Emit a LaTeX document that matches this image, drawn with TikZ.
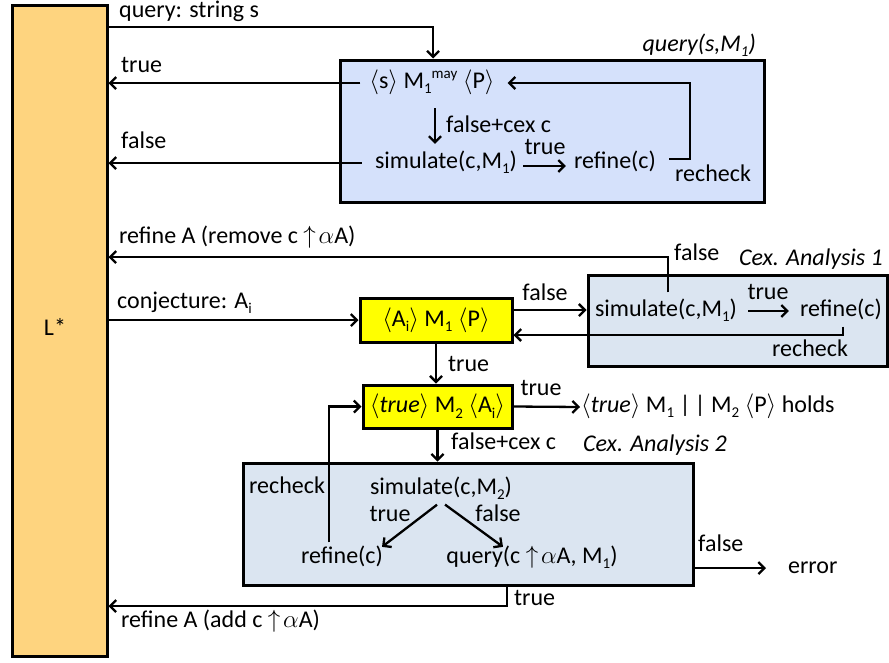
\documentclass[tikz,border=0pt]{standalone}
\usepackage{fontspec}
\setmainfont{Carlito}
\usetikzlibrary{arrows.meta}
\definecolor{lstar}{HTML}{FED47F}
\definecolor{qblue}{HTML}{D5E1FB}
\definecolor{cexblue}{HTML}{DBE5F1}
\definecolor{ybox}{HTML}{FFFF00}
\newcommand\lo[1]{\raisebox{-0.22em}{\fontsize{15}{15}\selectfont #1}}
\newcommand\hi[1]{\raisebox{0.42em}{\fontsize{15}{15}\selectfont #1}}
\newcommand\angl{\ensuremath{\langle}}
\newcommand\angr{\ensuremath{\rangle}}
\newcommand\upa{\ensuremath{\uparrow\!\alpha}}
\begin{document}
\begin{tikzpicture}[x=1pt, y=-1pt, line width=2.3pt,
  font=\fontsize{24}{28}\selectfont,
  arr/.style={-{Straight Barb[length=6pt,width=12pt,line width=2.3pt]}},
  box/.style={draw, line width=3pt, inner sep=0pt},
  txt/.style={inner sep=0pt, text height=17pt, text depth=6pt}]
\fill[white] (0,0) rectangle (889,662);
\useasboundingbox (0,0) rectangle (889,662);

% learner column
\node[box, fill=lstar, minimum width=95pt, minimum height=651pt] (L) at (59.5,330.5) {};
\node[txt] (Ltxt) at (55,330) {L*};

% membership query box
\node[box, fill=qblue, minimum width=424pt, minimum height=142pt] (qbox) at (552,131) {};
\node[txt, anchor=east] (qname) at (757,46) {\itshape query(s,M\lo{1})};
\node[txt] (mayP) at (432,83) {\angl s\angr\ M\lo{1}\hi{may} \angl P\angr};
\node[txt] (sim1) at (446,163) {simulate(c,M\lo{1})};
\node[txt] (ref1) at (615,163) {refine(c)};
\node[txt] (tru1) at (545,149) {true};
\node[txt, anchor=west] (rc1) at (674,176) {recheck};
\node[txt, anchor=west] (fc1) at (445,127) {false+cex c};
\coordinate (rl1) at (690,83);
\coordinate (qturn) at (433,27);

% labels on the learner side
\node[txt, anchor=west] (qlab) at (118,12) {query: string s};
\node[txt, anchor=west] (tl1) at (120,67) {true};
\node[txt, anchor=west] (fl1) at (120,143) {false};
\node[txt, anchor=west] (refA1) at (118,238) {refine A (remove c \upa A)};
\node[txt, anchor=west] (conj) at (116,303) {conjecture: A\lo{i}};
\node[txt, anchor=west] (refA2) at (120,622) {refine A (add c \upa A)};

% assume-guarantee premises
\node[box, fill=ybox, minimum width=152pt, minimum height=44pt] (y1) at (436,320) {\angl A\lo{i}\angr\ M\lo{1} \angl P\angr};
\node[box, fill=ybox, minimum width=149pt, minimum height=43pt] (y2) at (437.5,406.5) {\angl\textit{true}\angr\ M\lo{2} \angl A\lo{i}\angr};
\node[txt] (fal1) at (545,295) {false};
\node[txt, anchor=west] (trD) at (447,366) {true};
\node[txt] (tru3) at (541,390) {true};
\node[txt, anchor=west] (holds) at (580,407) {\angl\textit{true}\angr\ M\lo{1} |\,| M\lo{2} \angl P\angr\ holds};
\node[txt, anchor=west] (fc2) at (450,444) {false+cex c};

% counterexample analysis 1
\node[box, fill=cexblue, minimum width=299pt, minimum height=91pt] (cex1) at (737.5,320.5) {};
\node[txt, anchor=east] (cname1) at (884,260) {\itshape Cex. Analysis 1};
\node[txt] (sim2) at (666,311) {simulate(c,M\lo{1})};
\node[txt] (ref2) at (841,311) {refine(c)};
\node[txt] (tru2) at (768,294) {true};
\node[txt] (rc2) at (810,351) {recheck};
\node[txt, anchor=west] (fal2) at (673,255) {false};
\coordinate (rA1) at (668,257);

% counterexample analysis 2
\node[box, fill=cexblue, minimum width=450pt, minimum height=122pt] (cex2) at (468,524) {};
\node[txt, anchor=west] (cname2) at (582,446) {\itshape Cex. Analysis 2};
\node[txt, anchor=west] (rc3) at (248,488) {recheck};
\node[txt] (sim3) at (441,489) {simulate(c,M\lo{2})};
\node[txt] (t3) at (390,516) {true};
\node[txt] (f3) at (498,516) {false};
\node[txt] (ref3) at (342,558) {refine(c)};
\node[txt] (qry) at (532,558) {query(c \upa A, M\lo{1})};
\node[txt, anchor=west] (truB) at (513,600) {true};
\node[txt, anchor=west] (fal4) at (697,546) {false};
\node[txt, anchor=west] (err) at (787,568) {error};
\coordinate (tB) at (507,606);

% connectors: membership query
\draw[arr] (L.east |- qturn) -- (qturn) -- (qturn |- qbox.north);
\draw[arr] ([xshift=-8pt]mayP.west) -- (L.east |- mayP.west);
\draw[arr] ([xshift=-12pt]sim1.west) -- (L.east |- sim1.west);
\draw[arr, shorten <=12.5pt, shorten >=6.5pt] ([xshift=3pt]mayP.south) -- ([xshift=-11pt]sim1.north);
\draw[arr] ([xshift=5pt,yshift=-3pt]sim1.east) -- ([xshift=-7pt,yshift=-3pt]ref1.west);
\draw[arr] ([xshift=12pt,yshift=4pt]ref1.east) -| (rl1) -- ([xshift=12pt]mayP.east);

% connectors: conjecture and first premise
\draw[arr] (L.east |- y1.west) -- (y1.west);
\draw[arr] ([yshift=10pt]y1.east) -- ([yshift=10pt]y1.east -| cex1.west);
\draw[arr] ([xshift=10pt]sim2.east) -- ([xshift=-10pt]ref2.west);
\draw[arr, shorten <=6pt] (sim2.north -| rA1) -- (rA1) -- (L.east |- rA1);
\draw[arr, shorten <=3pt] ([xshift=2pt]ref2.south) |- ([yshift=-15pt]y1.east);
\draw[arr] (y1.south) -- (y1.south |- y2.north);

% connectors: second premise
\draw[arr] (y2.east) -- (holds.west);
\draw[arr] (y2.south) -- (y2.south |- cex2.north);
\draw[arr, shorten <=3pt] ([xshift=-13pt]ref3.north) |- (y2.west);
\draw[arr, shorten <=5pt] (sim3.south) -- ([xshift=40pt,yshift=-1.5pt]ref3.north);
\draw[arr, shorten <=5pt] (sim3.south) -- ([xshift=-29pt,yshift=-1.5pt]qry.north);
\draw[arr] (tB |- cex2.south) -- (tB) -- (L.east |- tB);
\draw[arr] (cex2.east |- err.west) -- ([xshift=-21pt]err.west);
\end{tikzpicture}
\end{document}
